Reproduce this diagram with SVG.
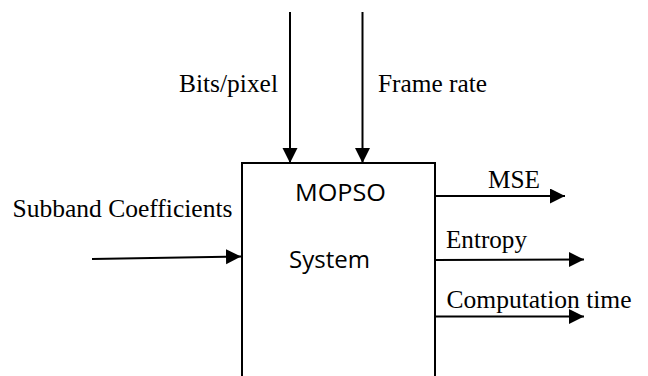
<svg xmlns="http://www.w3.org/2000/svg" width="648" height="376" viewBox="0 0 648 376">
  <style>
    .lbl { font-family: "Liberation Serif", "Times New Roman", serif; font-size: 26px; fill: #000; }
    .sys { font-family: "Open Sans", "Liberation Sans", sans-serif; font-size: 24px; fill: #000; }
    .box { fill: #fff; stroke: #000; stroke-width: 2; }
    .conn { stroke: #000; stroke-width: 2; fill: none; marker-end: url(#ah); }
  </style>
  <defs>
    <marker id="ah" markerUnits="userSpaceOnUse" markerWidth="16" markerHeight="16" refX="15" refY="7.5" orient="auto">
      <path d="M0,0 L15,7.5 L0,15 Z" fill="#000"/>
    </marker>
  </defs>
  <rect width="648" height="376" fill="#fff"/>
  <g id="mopso-system">
    <path class="box" d="M242,380 L242,163 L435,163 L435,380"/>
    <text class="sys" x="295" y="201" textLength="91" lengthAdjust="spacingAndGlyphs">MOPSO</text>
    <text class="sys" x="289" y="268" textLength="81" lengthAdjust="spacingAndGlyphs">System</text>
  </g>
  <g id="connectors">
    <line class="conn" x1="290" y1="12" x2="290" y2="163"/>
    <line class="conn" x1="362.5" y1="12" x2="362.5" y2="163"/>
    <line class="conn" x1="92" y1="259" x2="241" y2="256.5"/>
    <line class="conn" x1="435" y1="196" x2="565" y2="196"/>
    <line class="conn" x1="435" y1="260" x2="584" y2="259.5"/>
    <line class="conn" x1="435" y1="316.5" x2="584" y2="316.5"/>
  </g>
  <g id="labels">
    <text class="lbl" x="179" y="92" textLength="99" lengthAdjust="spacingAndGlyphs">Bits/pixel</text>
    <text class="lbl" x="378" y="92" textLength="109" lengthAdjust="spacingAndGlyphs">Frame rate</text>
    <text class="lbl" x="12.5" y="217" textLength="220" lengthAdjust="spacingAndGlyphs">Subband Coefficients</text>
    <text class="lbl" x="488" y="188" textLength="52" lengthAdjust="spacingAndGlyphs">MSE</text>
    <text class="lbl" x="446" y="248" textLength="81" lengthAdjust="spacingAndGlyphs">Entropy</text>
    <text class="lbl" x="446.5" y="308" textLength="185" lengthAdjust="spacingAndGlyphs">Computation time</text>
  </g>
</svg>
